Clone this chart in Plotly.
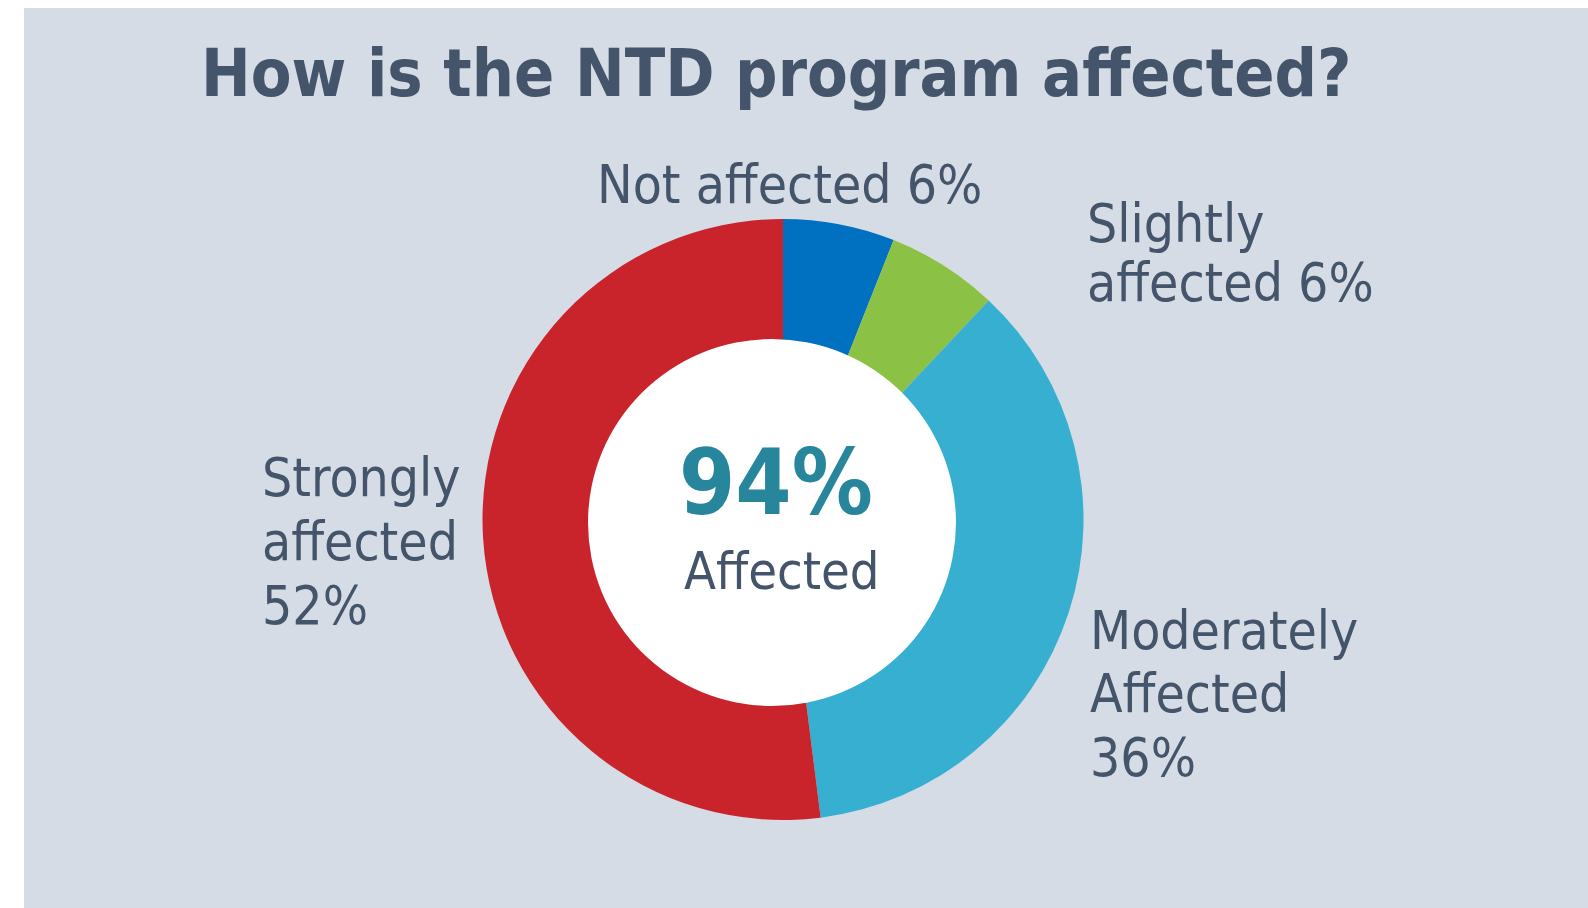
import plotly.graph_objects as go

# ---- data ----
categories = ["Not affected", "Slightly affected", "Moderately Affected", "Strongly affected"]
values = [6, 6, 36, 52]
colors = ["#0070C0", "#8BC145", "#37AFD0", "#C9242C"]
label_lines = [
    ["Not affected 6%"],
    ["Slightly", "affected 6%"],
    ["Moderately", "Affected", "36%"],
    ["Strongly", "affected", "52%"],
]
title_text = "How is the NTD program affected?"
center_big = "94%"
center_small = "Affected"

W, H = 1588, 908
TXT = "#44546A"
FONT = "DejaVu Sans Condensed, DejaVu Sans, Verdana, sans-serif"


def px(x):
    return x / W


def py(y):
    return 1 - y / H


fig = go.Figure()
fig.add_trace(go.Pie(
    labels=categories,
    values=values,
    sort=False,
    direction="clockwise",
    rotation=0,
    marker=dict(colors=colors, line=dict(width=0)),
    textinfo="none",
    hoverinfo="label+percent",
    showlegend=False,
    domain=dict(x=[px(482), px(1084)], y=[py(820), py(219)]),
))

shapes = [
    dict(type="rect", xref="paper", yref="paper", x0=px(24), x1=1, y0=0, y1=py(8),
         fillcolor="#D6DCE5", line=dict(width=0), layer="below"),
    dict(type="circle", xref="paper", yref="paper", x0=px(588), x1=px(956),
         y0=py(706), y1=py(339), fillcolor="white", line=dict(width=0), layer="above"),
]

annotations = []


def add_text(text, x, y, size, color=TXT, xanchor="left", bold=False):
    t = f"<b>{text}</b>" if bold else text
    annotations.append(dict(text=t, x=px(x), y=py(y), xref="paper", yref="paper",
                            xanchor=xanchor, yanchor="middle", showarrow=False,
                            font=dict(family=FONT, size=size, color=color)))

LS = 53
off = 0.36 * LS
# Not affected
add_text(label_lines[0][0], 595, 204 - off, LS)
# Slightly
for i, b in enumerate([243, 302]):
    add_text(label_lines[1][i], 1085, b - off, LS)
# Moderately
for i, b in enumerate([650, 713, 777]):
    add_text(label_lines[2][i], 1088, b - off, LS)
# Strongly
for i, b in enumerate([497, 561, 625]):
    add_text(label_lines[3][i], 260, b - off, LS)

# title
add_text(title_text, 776, 97 - 0.36 * 66, 66, xanchor="center", bold=True)
# center
add_text(center_big, 776, 515 - 0.36 * 90, 90, color="#27869C", xanchor="center", bold=True)
add_text(center_small, 782, 590 - off, LS - 1, xanchor="center")

fig.update_layout(
    width=W, height=H,
    margin=dict(l=0, r=0, t=0, b=0),
    paper_bgcolor="white",
    plot_bgcolor="white",
    shapes=shapes,
    annotations=annotations,
)

fig.write_html("out.html", config={"displayModeBar": False},
               post_script="document.body.style.margin='0';document.body.style.overflow='hidden';")
